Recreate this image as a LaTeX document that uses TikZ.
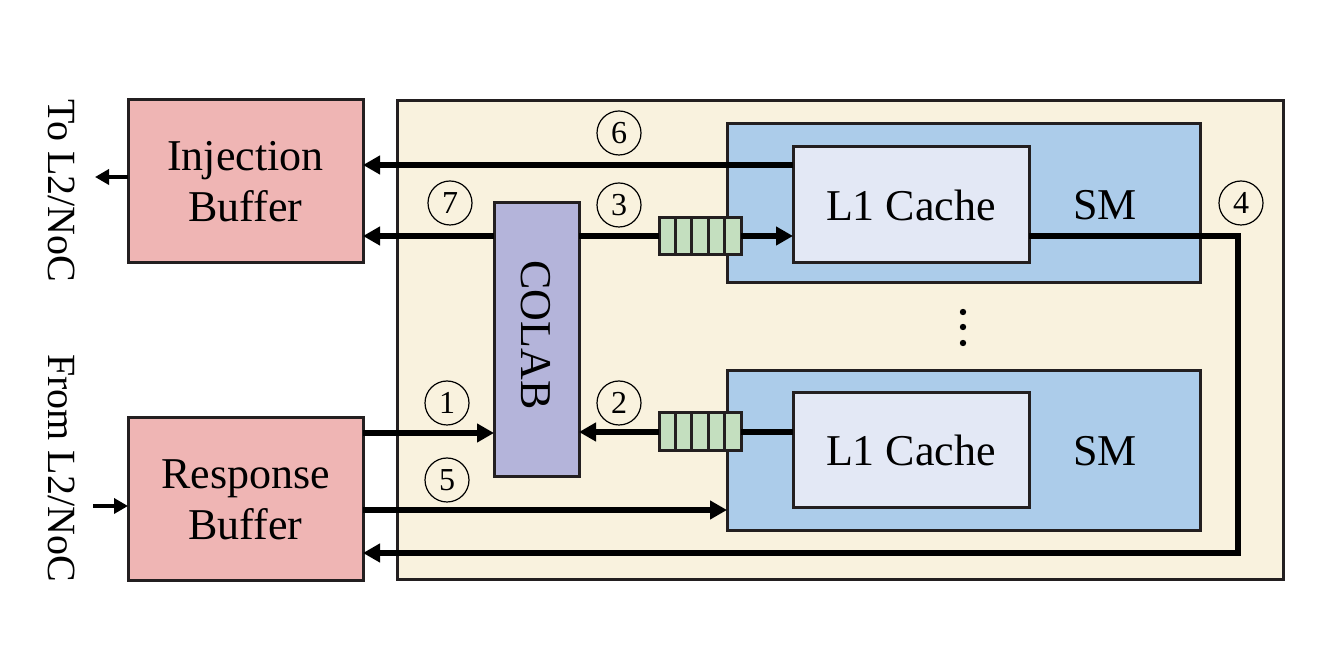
\documentclass[tikz,border=0pt]{standalone}
\usepackage{fontspec}
\setmainfont{Liberation Serif}
\usetikzlibrary{arrows.meta,calc}
\definecolor{bord}{RGB}{35,31,32}
\definecolor{pinkf}{RGB}{239,181,180}
\definecolor{contf}{RGB}{249,242,222}
\definecolor{smf}{RGB}{172,204,234}
\definecolor{lonef}{RGB}{227,232,245}
\definecolor{colabf}{RGB}{180,180,218}
\definecolor{qf}{RGB}{196,223,191}
\begin{document}
\begin{tikzpicture}[x=0.5pt,y=-0.5pt,
  box/.style={draw=bord,line width=1.5pt,inner sep=0pt,outer sep=0pt},
  bigtxt/.style={font=\fontsize{22}{25.5}\selectfont},
  arr/.style={line width=2.8pt,-{Triangle[length=8.5pt,width=9pt]}},
  plainln/.style={line width=2.8pt},
  sarr/.style={line width=2.4pt,-{Triangle[length=7pt,width=7.5pt]}},
  num/.style={draw=black,line width=0.6pt,circle,minimum size=22pt,inner sep=0pt,font=\fontsize{16}{16}\selectfont},
  side/.style={rotate=-90,font=\fontsize{20}{20}\selectfont}]
\useasboundingbox (0,0) rectangle (1330,662);
% container
\node[box,fill=contf,minimum width=443pt,minimum height=239.5pt] (cont) at (840,340.5) {};
% buffers
\node[box,fill=pinkf,minimum width=117.5pt,minimum height=81.5pt,bigtxt,align=center] (inj) at (245.5,181.5) {Injection\\Buffer};
\node[box,fill=pinkf,minimum width=117.5pt,minimum height=81.5pt,bigtxt,align=center] (resp) at (245.5,499.5) {Response\\Buffer};
% SMs
\node[box,fill=smf,minimum width=236.5pt,minimum height=79.5pt] (sma) at (963.5,203.5) {};
\node[box,fill=smf,minimum width=236.5pt,minimum height=80pt] (smb) at (963.5,451) {};
\node[bigtxt] (smla) at (1105,205) {SM};
\node[bigtxt] (smlb) at (1105,451) {SM};
\node[box,fill=lonef,minimum width=118pt,minimum height=58pt,bigtxt] (l1a) at (911,205) {L1 Cache};
\node[box,fill=lonef,minimum width=118pt,minimum height=57.5pt,bigtxt] (l1b) at (911,450.5) {L1 Cache};
% COLAB
\node[box,fill=colabf,minimum width=42.5pt,minimum height=137pt] (colab) at (536.5,340) {};
\node[bigtxt,rotate=-90] (colabt) at (536,335) {COLAB};
% queues
\node[box,fill=qf,minimum width=41pt,minimum height=18.5pt] (qa) at (700,236) {};
\node[box,fill=qf,minimum width=41pt,minimum height=19pt] (qb) at (700,432) {};
\foreach \q in {qa,qb}{
  \foreach \i in {1,2,3,4}{
    \draw[bord,line width=1.5pt] ($(\q.north west)!\i/5!(\q.north east)$) -- ($(\q.south west)!\i/5!(\q.south east)$);
  }
}
% rows
\coordinate (r6) at (0,165);
\coordinate (r3) at (0,236);
\coordinate (r1) at (0,433);
\coordinate (r5) at (0,510);
\coordinate (c4) at (1238,553);
% connectors
\draw[arr] (l1a.west |- r6) -- (inj.east |- r6);
\draw[arr] (colab.west |- r3) -- (inj.east |- r3);
\draw[plainln] (colab.east |- r3) -- (qa.west);
\draw[arr] (qa.east) -- (l1a.west |- r3);
\draw[plainln] (l1b.west |- qb) -- (qb.east);
\draw[arr] (qb.west) -- (colab.east |- qb);
\draw[arr] (resp.east |- r1) -- (colab.west |- r1);
\draw[arr] (resp.east |- r5) -- (smb.west |- r5);
\draw[arr] (l1a.east |- r3) -| (c4) -- (resp.east |- c4);
% outside arrows
\coordinate (toL2) at (95,177);
\coordinate (fromL2) at (93,506);
\draw[sarr] (inj.west |- toL2) -- (toL2);
\draw[sarr] (fromL2) -- (resp.west |- fromL2);
\node[side] (tl) at (62,191) {To L2/NoC};
\node[side] (fl) at (62,468) {From L2/NoC};
% numbers
\node[num] (n6) at (619,133) {6};
\node[num] (n7) at (450,203) {7};
\node[num] (n3) at (619,205) {3};
\node[num] (n1) at (447,403) {1};
\node[num] (n2) at (619,403) {2};
\node[num] (n5) at (447,480) {5};
\node[num] (n4) at (1241,203) {4};
% dots
\fill (963,312) circle (1.6pt);
\fill (963,327) circle (1.6pt);
\fill (963,343) circle (1.6pt);
\end{tikzpicture}
\end{document}
